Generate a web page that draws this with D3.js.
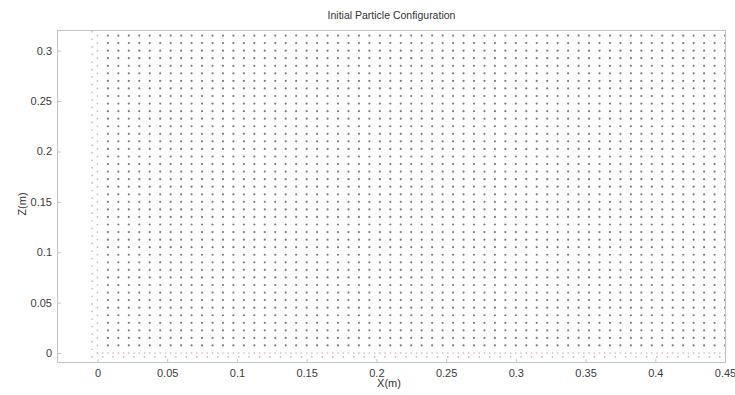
<!DOCTYPE html>
<html>
<head>
<meta charset="utf-8">
<script src="https://cdn.jsdelivr.net/npm/d3@7"></script>
<style>
  html, body { margin: 0; padding: 0; background: #ffffff; }
  svg { display: block; }
  text { font-family: "Liberation Sans", Arial, sans-serif; }
</style>
</head>
<body>
<svg id="chart" width="735" height="395"></svg>
<script>
// Fluid particle lattice (m): column x positions and row z positions
const colX = [0.0075, 0.015, 0.0225, 0.03, 0.0375, 0.045, 0.0525, 0.06, 0.0675, 0.075,
  0.0825, 0.09, 0.0975, 0.105, 0.1125, 0.12, 0.1275, 0.135, 0.1425, 0.15,
  0.1575, 0.165, 0.1725, 0.18, 0.1875, 0.195, 0.2025, 0.21, 0.2175, 0.225,
  0.2325, 0.24, 0.2475, 0.255, 0.2625, 0.27, 0.2775, 0.285, 0.2925, 0.3,
  0.3075, 0.315, 0.3225, 0.33, 0.3375, 0.345, 0.3525, 0.36, 0.3675, 0.375,
  0.3825, 0.39, 0.3975, 0.405, 0.4125, 0.42, 0.4275, 0.435, 0.4425, 0.45];
const rowZ = [0.0075, 0.015, 0.0225, 0.03, 0.0375, 0.045, 0.0525, 0.06, 0.0675, 0.075,
  0.0825, 0.09, 0.0975, 0.105, 0.1125, 0.12, 0.1275, 0.135, 0.1425, 0.15,
  0.1575, 0.165, 0.1725, 0.18, 0.1875, 0.195, 0.2025, 0.21, 0.2175, 0.225,
  0.2325, 0.24, 0.2475, 0.255, 0.2625, 0.27, 0.2775, 0.285, 0.2925, 0.3,
  0.3075, 0.315];
// Staggered half-step positions used by the boundary layers
const halfSteps = [0.00375, 0.01125, 0.01875, 0.02625, 0.03375, 0.04125, 0.04875, 0.05625, 0.06375, 0.07125,
  0.07875, 0.08625, 0.09375, 0.10125, 0.10875, 0.11625, 0.12375, 0.13125, 0.13875, 0.14625,
  0.15375, 0.16125, 0.16875, 0.17625, 0.18375, 0.19125, 0.19875, 0.20625, 0.21375, 0.22125,
  0.22875, 0.23625, 0.24375, 0.25125, 0.25875, 0.26625, 0.27375, 0.28125, 0.28875, 0.29625,
  0.30375, 0.31125, 0.31875, 0.32625, 0.33375, 0.34125, 0.34875, 0.35625, 0.36375, 0.37125,
  0.37875, 0.38625, 0.39375, 0.40125, 0.40875, 0.41625, 0.42375, 0.43125, 0.43875, 0.44625];
// Boundary layers: two wall columns and two floor rows
const wallX = [0, -0.00375];
const floorZ = [0, -0.00375];

const xTicks = [0, 0.05, 0.1, 0.15, 0.2, 0.25, 0.3, 0.35, 0.4, 0.45];
const zTicks = [0, 0.05, 0.1, 0.15, 0.2, 0.25, 0.3];
const xDomain = [-0.029, 0.4507];
const zDomain = [-0.0099, 0.3205];

const margin = { left: 57, right: 9, top: 30, bottom: 32 };
const W = 735, H = 395;
const svg = d3.select("#chart");

const x = d3.scaleLinear().domain(xDomain).range([margin.left, W - margin.right]);
const z = d3.scaleLinear().domain(zDomain).range([H - margin.bottom, margin.top]);

// Build particle sets
const fluid = [];
rowZ.forEach(zz => colX.forEach(xx => fluid.push([xx, zz])));

const wall = [];
[0].concat(rowZ).forEach(zz => wall.push([wallX[0], zz]));
halfSteps.filter(v => v <= 0.32).forEach(zz => wall.push([wallX[1], zz]));

const floorTop = [];
[0].concat(colX).forEach((xx, i) => floorTop.push([xx, floorZ[0], i % 2 === 0]));
halfSteps.forEach(xx => floorTop.push([xx, floorZ[0], true]));
const floorBot = [];
halfSteps.forEach(xx => floorBot.push([xx, floorZ[1]]));
[-0.00375].forEach(xx => floorBot.push([xx, floorZ[1]]));

// Plot area background and frame
const g = svg.append("g");
g.append("rect")
  .attr("x", x(xDomain[0])).attr("y", z(zDomain[1]))
  .attr("width", x(xDomain[1]) - x(xDomain[0]))
  .attr("height", z(zDomain[0]) - z(zDomain[1]))
  .attr("fill", "#ffffff");

// Particles
g.append("g").selectAll("circle").data(wall).join("circle")
  .attr("cx", d => x(d[0])).attr("cy", d => z(d[1]))
  .attr("r", 0.85).attr("fill", "#bdbdbd");
g.append("g").selectAll("circle").data(floorBot).join("circle")
  .attr("cx", d => x(d[0])).attr("cy", d => z(d[1]))
  .attr("r", 0.85).attr("fill", "#b8b8b8");
g.append("g").selectAll("circle").data(floorTop).join("circle")
  .attr("cx", d => x(d[0])).attr("cy", d => z(d[1]))
  .attr("r", 0.85).attr("fill", d => d[2] ? "#e7b1b8" : "#bcbcbc");
g.append("g").selectAll("circle").data(fluid).join("circle")
  .attr("cx", d => x(d[0])).attr("cy", d => z(d[1]))
  .attr("r", 1.1).attr("fill", "#7d7d7d");

// Axes with inward ticks
const axisColor = "#c4c4c4";
const xAxis = d3.axisBottom(x).tickValues(xTicks).tickSizeInner(-4).tickSizeOuter(0)
  .tickFormat(d => d === 0 ? "0" : String(d));
const zAxis = d3.axisLeft(z).tickValues(zTicks).tickSizeInner(-4).tickSizeOuter(0)
  .tickFormat(d => d === 0 ? "0" : String(d));

const gx = svg.append("g").attr("transform", `translate(0,${H - margin.bottom})`).call(xAxis);
const gz = svg.append("g").attr("transform", `translate(${margin.left},0)`).call(zAxis);
[gx, gz].forEach(a => {
  a.select(".domain").remove();
  a.selectAll(".tick line").attr("stroke", axisColor);
  a.selectAll(".tick text").attr("fill", "#3c3c3c")
    .style("font-size", "11px").style("font-family", "'Liberation Sans', Arial, sans-serif");
});
gx.selectAll(".tick text").attr("dy", "0.71em").attr("y", 6);
gz.selectAll(".tick text").attr("x", -5);

// Box frame
svg.append("rect")
  .attr("x", x(xDomain[0]) + 0.5).attr("y", z(zDomain[1]) + 0.5)
  .attr("width", x(xDomain[1]) - x(xDomain[0]) - 1)
  .attr("height", z(zDomain[0]) - z(zDomain[1]) - 1)
  .attr("fill", "none").attr("stroke", axisColor).attr("stroke-width", 1);

// Titles
svg.append("text")
  .attr("x", (x(xDomain[0]) + x(xDomain[1])) / 2).attr("y", 19)
  .attr("text-anchor", "middle").attr("fill", "#333")
  .style("font-size", "10.5px")
  .text("Initial Particle Configuration");
svg.append("text")
  .attr("x", 389).attr("y", 387)
  .attr("text-anchor", "middle").attr("fill", "#333")
  .style("font-size", "11px")
  .text("X(m)");
svg.append("text")
  .attr("transform", "translate(26,204) rotate(-90)")
  .attr("text-anchor", "middle").attr("fill", "#333")
  .style("font-size", "11px")
  .text("Z(m)");
</script>
</body>
</html>
